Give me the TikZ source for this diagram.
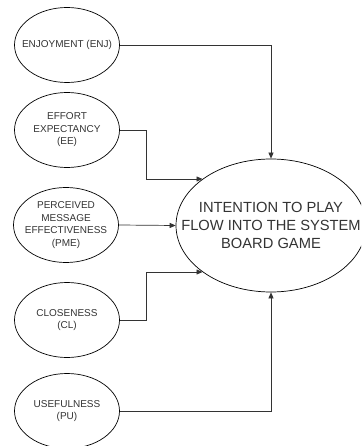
\documentclass[tikz,border=0pt]{standalone}
\usepackage{fontspec}
\setmainfont{Liberation Sans}
\usetikzlibrary{shapes.geometric,arrows.meta}
\definecolor{txt}{HTML}{333333}
\begin{document}
\begin{tikzpicture}[x=1pt,y=-1pt,
  smalltxt/.style={align=center,text=txt,inner sep=0pt,font=\fontsize{10}{12.5}\selectfont},
  bigtxt/.style={align=center,text=txt,inner sep=0pt,font=\fontsize{14.7}{18}\selectfont},
  small/.style={ellipse,draw=black,line width=0.7pt,inner sep=0pt,minimum width=105pt,minimum height=75pt},
  big/.style={ellipse,draw=black,line width=0.7pt,inner sep=0pt,minimum width=190pt,minimum height=133pt},
  conn/.style={draw=black!80,line width=0.7pt,-{Triangle[length=6pt,width=5pt]}}]
\useasboundingbox (0,0) rectangle (361,446);
\clip (0,0) rectangle (361,446);
\node[small,label={[smalltxt]center:ENJOYMENT (ENJ)}] (enj) at (67,45) {};
\node[small,label={[smalltxt]center:EFFORT\\EXPECTANCY\\(EE)}] (ee) at (67,130) {};
\node[small,label={[smalltxt]center:PERCEIVED\\MESSAGE\\EFFECTIVENESS\\(PME)}] (pme) at (66,225) {};
\node[small,label={[smalltxt]center:CLOSENESS\\(CL)}] (cl) at (67,320) {};
\node[small,label={[smalltxt]center:USEFULNESS\\(PU)}] (pu) at (67,411) {};
\node[big,label={[bigtxt]center:INTENTION TO PLAY\\FLOW INTO THE SYSTEM\\BOARD GAME}] (main) at (271,225.5) {};
\coordinate (eeIn) at (202.5,179);
\coordinate (clIn) at (202.5,272);
\coordinate (eeK) at (146,130);
\coordinate (clK) at (146,320);
\draw[conn] (enj.east) -| (main.north);
\draw[conn] (ee.east) -- (eeK) |- (eeIn);
\draw[conn] (pme.east) -- (main.west);
\draw[conn] (cl.east) -- (clK) |- (clIn);
\draw[conn] (pu.east) -| (main.south);
\end{tikzpicture}
\end{document}
